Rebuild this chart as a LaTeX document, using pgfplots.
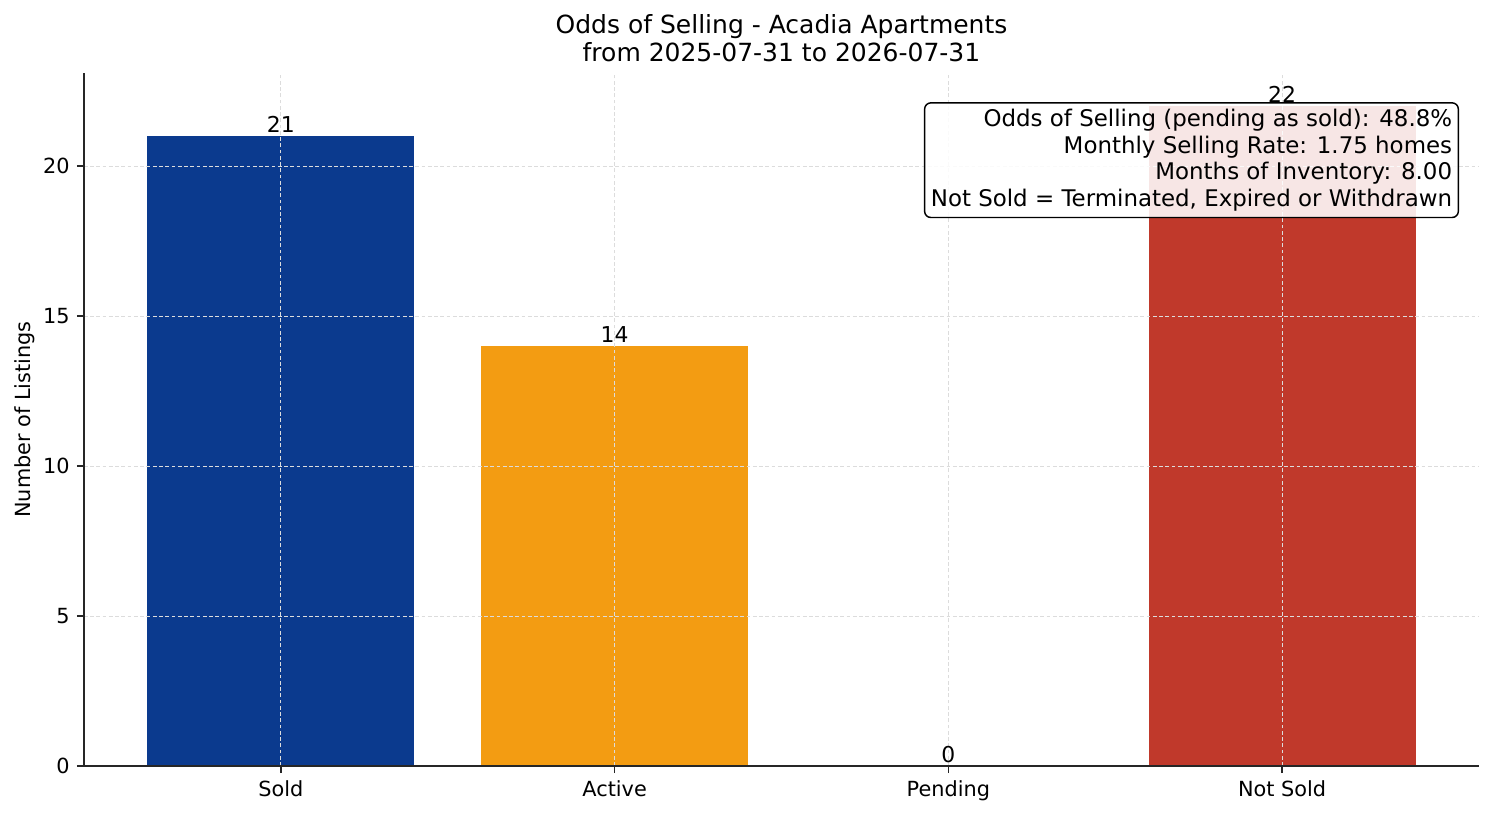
\documentclass[border=0pt]{standalone}
\usepackage{pgfplots}
\pgfplotsset{compat=1.18}
\usepackage{fontspec}
\setmainfont{DejaVu Sans}
\definecolor{soldblue}{HTML}{0B3A8E}
\definecolor{activeorange}{HTML}{F39C12}
\definecolor{pendgray}{HTML}{7F8C8D}
\definecolor{notsoldred}{HTML}{C0392B}
\definecolor{gridgray}{HTML}{DCDCDC}
\begin{document}
\begin{tikzpicture}
\begin{axis}[
    scale only axis,
    width=669.6pt, height=332.6pt,
    xmin=-0.59, xmax=3.59,
    ymin=0, ymax=23.1,
    xtick={0,1,2,3},
    xticklabels={Sold, Active, Pending, Not Sold},
    ytick={0,5,10,15,20},
    axis lines=left,
    axis line style={-, draw=black!85, line width=0.7pt},
    tick align=outside,
    major tick length=3.4pt,
    tick style={draw=black!85, line width=0.7pt},
    tick label style={font=\fontsize{10}{12}\selectfont},
    /pgf/number format/assume math mode=true,
    xmajorgrids, ymajorgrids,
    grid style={gridgray, dash pattern=on 1.8pt off 1.2pt, line width=0.4pt},
    axis on top,
    ylabel={Number of Listings},
    ylabel style={font=\fontsize{10}{12}\selectfont, yshift=-3pt},
    title={Odds of Selling - Acadia Apartments\\from 2025-07-31 to 2026-07-31},
    title style={font=\fontsize{12}{13.4pt}\selectfont, align=center, yshift=-4pt},
    ybar, bar width=0.8, bar shift=0pt,
    nodes near coords,
    every node near coord/.append style={font=\fontsize{10.5}{12}\selectfont, black, yshift=-2pt},
]
\addplot[fill=soldblue, draw=none] coordinates {(0,21)};
\addplot[fill=activeorange, draw=none] coordinates {(1,14)};
\addplot[fill=pendgray, draw=none] coordinates {(2,0)};
\addplot[fill=notsoldred, draw=none] coordinates {(3,22)};
\coordinate (boxpos) at (rel axis cs:0.9857,0.958);
\end{axis}
\node[anchor=north east, draw=black, line width=0.7pt, rounded corners=3pt,
      fill=white, fill opacity=0.88, text opacity=1, align=right,
      font=\fontsize{11}{12.8pt}\selectfont, inner sep=3pt]
  at (boxpos)
  {Odds of Selling (pending as sold): 48.8\%\\Monthly Selling Rate: 1.75 homes\\Months of Inventory: 8.00\\Not Sold = Terminated, Expired or Withdrawn};
\path (current axis.south west) ++(-40.32pt,-24pt) coordinate (bl);
\path (current axis.north east) ++(7.2pt,35.04pt) coordinate (tr);
\path (bl) rectangle (tr);
\end{tikzpicture}
\end{document}
